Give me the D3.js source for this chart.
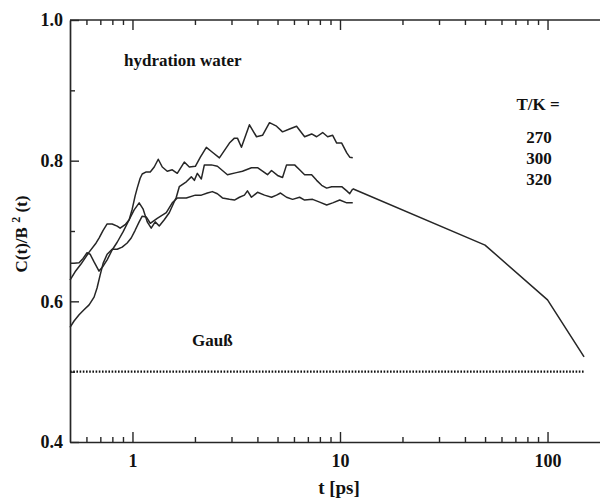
<!DOCTYPE html>
<html>
<head>
<meta charset="utf-8">
<script src="https://cdn.jsdelivr.net/npm/d3@7"></script>
<style>
  html, body { margin: 0; padding: 0; background: #fff; }
  svg { display: block; overflow: hidden; }
  text { font-family: "Liberation Serif", "Times New Roman", "DejaVu Serif", serif; font-weight: bold; fill: #111; }
</style>
</head>
<body>
<svg id="chart" width="600" height="500"></svg>
<script>
// Correlation ratio C(t)/B²(t) of hydration water at three temperatures
const t270 = [0.5, 0.529, 0.565, 0.618, 0.668, 0.690, 0.722, 0.755, 0.798, 0.844, 0.872, 0.922, 0.964, 0.997,
  1.030, 1.054, 1.089, 1.114, 1.165, 1.218, 1.273, 1.331, 1.392, 1.471, 1.555, 1.644, 1.777, 1.879, 2.009,
  2.124, 2.270, 2.427, 2.624, 2.932, 3.100, 3.205, 3.350, 3.662, 3.960, 4.233, 4.574, 4.945, 5.286, 5.715,
  6.177, 6.753, 7.300, 7.717, 8.250, 8.721, 9.220, 9.640, 10.19, 10.78, 11.14, 11.52];
const c270 = [0.630, 0.642, 0.653, 0.670, 0.683, 0.690, 0.701, 0.710, 0.710, 0.707, 0.704, 0.709, 0.716, 0.731,
  0.750, 0.761, 0.775, 0.781, 0.784, 0.784, 0.791, 0.802, 0.791, 0.785, 0.787, 0.782, 0.798, 0.791, 0.792,
  0.805, 0.819, 0.812, 0.804, 0.825, 0.832, 0.832, 0.819, 0.851, 0.834, 0.836, 0.854, 0.849, 0.841, 0.845,
  0.849, 0.834, 0.838, 0.834, 0.840, 0.834, 0.836, 0.825, 0.825, 0.811, 0.805, 0.804];

const t300 = [0.5, 0.523, 0.553, 0.578, 0.604, 0.625, 0.653, 0.690, 0.722, 0.755, 0.798, 0.844, 0.902, 0.964,
  1.019, 1.077, 1.126, 1.178, 1.231, 1.287, 1.346, 1.423, 1.504, 1.626, 1.681, 1.817, 1.921, 1.987, 2.054,
  2.147, 2.220, 2.400, 2.566, 2.713, 2.868, 3.170, 3.388, 3.744, 4.004, 4.233, 4.473, 4.677, 5.000, 5.286,
  5.527, 6.042, 6.387, 6.753, 7.300, 7.717, 8.159, 8.626, 9.118, 9.640, 10.19, 10.78, 11.14, 11.52];
const c300 = [0.654, 0.654, 0.655, 0.661, 0.669, 0.667, 0.656, 0.643, 0.650, 0.659, 0.673, 0.684, 0.699, 0.716,
  0.730, 0.740, 0.731, 0.713, 0.704, 0.713, 0.707, 0.716, 0.726, 0.748, 0.763, 0.770, 0.777, 0.772, 0.782,
  0.774, 0.794, 0.794, 0.792, 0.786, 0.780, 0.783, 0.785, 0.790, 0.790, 0.785, 0.780, 0.786, 0.779, 0.776,
  0.794, 0.794, 0.787, 0.780, 0.780, 0.772, 0.765, 0.761, 0.763, 0.763, 0.763, 0.757, 0.753, 0.760];

// long-time continuation of the 300 K run
const tLong = [11.52, 50, 100, 150];
const cLong = [0.760, 0.680, 0.602, 0.521];

const t320 = [0.5, 0.523, 0.553, 0.584, 0.618, 0.653, 0.675, 0.698, 0.722, 0.755, 0.798, 0.844, 0.892, 0.943,
  0.986, 1.030, 1.077, 1.114, 1.165, 1.218, 1.316, 1.455, 1.555, 1.644, 1.817, 2.009, 2.147, 2.296, 2.427,
  2.566, 2.713, 2.932, 3.100, 3.277, 3.463, 3.581, 3.744, 4.004, 4.328, 4.677, 4.945, 5.170, 5.527, 5.909,
  6.387, 6.753, 7.381, 7.979, 8.626, 9.220, 9.968, 10.78, 11.52];
const c320 = [0.563, 0.572, 0.581, 0.588, 0.595, 0.606, 0.619, 0.637, 0.654, 0.667, 0.674, 0.674, 0.677, 0.683,
  0.690, 0.701, 0.713, 0.721, 0.720, 0.711, 0.718, 0.726, 0.740, 0.747, 0.747, 0.751, 0.751, 0.754, 0.756,
  0.753, 0.747, 0.745, 0.744, 0.748, 0.751, 0.757, 0.748, 0.755, 0.751, 0.748, 0.751, 0.754, 0.748, 0.745,
  0.748, 0.744, 0.745, 0.741, 0.737, 0.740, 0.744, 0.740, 0.740];

// Gaussian limit
const gaussT = [0.5, 150];
const gaussC = [0.5, 0.5];

const temperatures = ["270", "300", "320"];
const xMajor = [1, 10, 100];
const xMinor = [0.6, 0.7, 0.8, 0.9, 2, 3, 4, 5, 6, 7, 8, 9, 20, 30, 40, 50, 60, 70, 80, 90, 200];
const yMajor = [0.4, 0.6, 0.8, 1.0];
const yMinor = [0.5, 0.7, 0.9];

const serif = '"Liberation Serif", "Times New Roman", "DejaVu Serif", serif';
const svg = d3.select("#chart");
const padLeft = 70, padTop = 20, padBottom = 442;
const x = d3.scaleLog().domain([0.5, 200]).range([padLeft, 610]);
const y = d3.scaleLinear().domain([0.4, 1.0]).range([padBottom, padTop]);
const ink = "#262626";
const blank = () => "";

function styleAxis(g) {
  g.attr("font-family", serif);
  g.select(".domain").attr("stroke", ink).attr("stroke-width", 1.7);
  g.selectAll(".tick line").attr("stroke", ink).attr("stroke-width", 1.4);
  g.selectAll(".tick text").attr("font-size", 18).attr("font-family", serif)
    .attr("font-weight", "bold").attr("fill", "#111");
}
function addAxis(axis, tx, ty, keepDomain) {
  const g = svg.append("g").attr("transform", `translate(${tx},${ty})`).call(axis).call(styleAxis);
  if (!keepDomain) g.select(".domain").remove();
  return g;
}

// bottom frame: labels below, ticks pointing up into the plot
addAxis(d3.axisBottom(x).tickValues(xMajor).tickSize(0).tickPadding(12).tickFormat(d3.format("d")), 0, padBottom, true);
addAxis(d3.axisTop(x).tickValues(xMajor).tickSize(10).tickFormat(blank), 0, padBottom, false);
addAxis(d3.axisTop(x).tickValues(xMinor).tickSize(5).tickFormat(blank), 0, padBottom, false);

// top frame: ticks pointing down into the plot
svg.append("line")
  .attr("x1", x(0.5)).attr("x2", x(200))
  .attr("y1", y(1.0)).attr("y2", y(1.0))
  .attr("stroke", ink).attr("stroke-width", 1.7);
addAxis(d3.axisBottom(x).tickValues(xMajor).tickSize(10).tickFormat(blank), 0, padTop, false);
addAxis(d3.axisBottom(x).tickValues(xMinor).tickSize(5).tickFormat(blank), 0, padTop, false);

// left frame: labels outside, ticks pointing right into the plot
addAxis(d3.axisLeft(y).tickValues(yMajor).tickSize(0).tickPadding(7).tickFormat(d3.format(".1f")), padLeft, 0, true);
addAxis(d3.axisRight(y).tickValues(yMajor).tickSize(9).tickFormat(blank), padLeft, 0, false);
addAxis(d3.axisRight(y).tickValues(yMinor).tickSize(5).tickFormat(blank), padLeft, 0, false);

const line = d3.line().x(d => x(d[0])).y(d => y(d[1]));
const zip = (a, b) => a.map((v, i) => [v, b[i]]);

[[t270, c270], [t300, c300], [tLong, cLong], [t320, c320]].forEach(([tt, cc]) => {
  svg.append("path").datum(zip(tt, cc))
    .attr("d", line).attr("fill", "none")
    .attr("stroke", ink).attr("stroke-width", 1.5).attr("stroke-linejoin", "round");
});

svg.append("path").datum(zip(gaussT, gaussC))
  .attr("d", line).attr("fill", "none")
  .attr("stroke", "#111").attr("stroke-width", 2.2).attr("stroke-dasharray", "1.6,1.6");

// annotations
function label(px, py, size, str, anchor) {
  return svg.append("text").attr("x", px).attr("y", py)
    .attr("font-family", serif).attr("font-weight", "bold").attr("font-size", size)
    .attr("text-anchor", anchor || "start").text(str);
}
label(124, 66, 17, "hydration water");
label(192, 346, 17, "Gauß");
label(538, 110, 17, "T/K =", "middle");
temperatures.forEach((tk, i) => label(539, 143 + i * 21, 17, tk, "middle"));

// axis titles
label(339, 494, 19, "t [ps]", "middle");
const yt = svg.append("text").attr("transform", "translate(27,234) rotate(-90)")
  .attr("font-family", serif).attr("font-weight", "bold")
  .attr("font-size", 17).attr("text-anchor", "middle");
yt.append("tspan").text("C(t)/B ");
yt.append("tspan").attr("font-size", 12).attr("dy", -7).text("2");
yt.append("tspan").attr("dy", 7).text(" (t)");
</script>
</body>
</html>
